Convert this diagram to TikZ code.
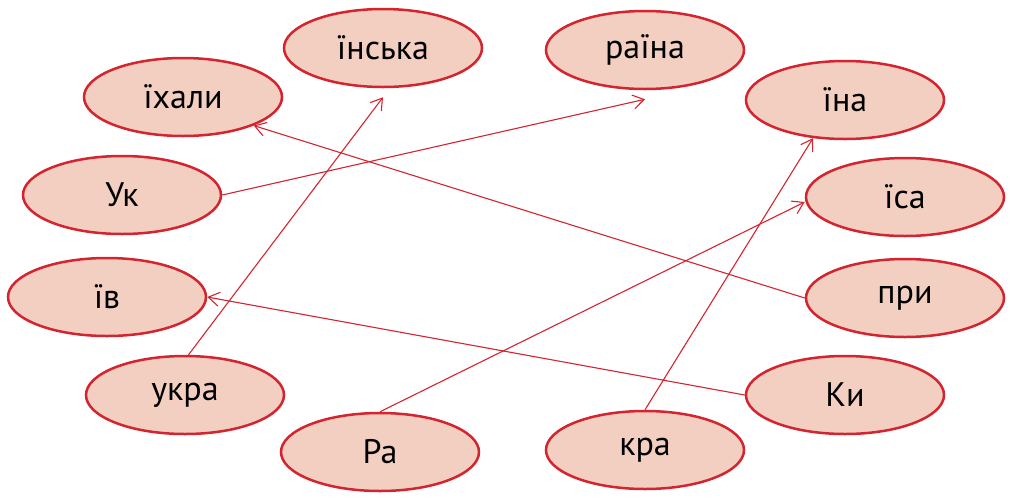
\documentclass[tikz,border=0pt]{standalone}
\usepackage{fontspec}
\setmainfont{PT Sans}
\usetikzlibrary{shapes.geometric,arrows.meta}
\definecolor{wordfill}{HTML}{F2CFC0}
\definecolor{wordline}{HTML}{D42430}

\begin{document}
\begin{tikzpicture}[x=1pt,y=-1pt,
    word/.style={ellipse,draw=wordline,fill=wordfill,line width=2.5pt,
      minimum width=198pt,minimum height=78pt,inner sep=0pt,
      font=\fontsize{34}{40}\selectfont},
    link/.style={draw=wordline,line width=1.1pt,
      -{Straight Barb[length=11pt,width=14pt]}}]
    \useasboundingbox (0,0) rectangle (1012,499);
    % Left column of word parts
    \node[word] (ihaly) at (183,97) {їхали};
    \node[word] (uk)    at (122,195) {Ук};
    \node[word] (iv)    at (107,297) {їв};
    \node[word] (ukra)  at (185,395) {укра};
    % Top and bottom
    \node[word] (insk)  at (383,48) {їнська};
    \node[word] (raina) at (645,50) {раїна};
    \node[word] (ra)    at (380,452) {Ра};
    \node[word] (kra)   at (645,450) {кра};
    % Right column of word parts
    \node[word] (ina)   at (845,100) {їна};
    \node[word] (isa)   at (905,197) {їса};
    \node[word] (pry)   at (905,298) {при};
    \node[word] (ky)    at (845,395) {Ки};
    % Connect the parts
    \draw[link] (pry.west) -- (ihaly.-22);
    \draw[link] (uk.east) -- ([yshift=-9pt]raina.south);
    \draw[link] (ukra.85) -- ([yshift=-9pt]insk.south);
    \draw[link] (ky.west) -- (iv.east);
    \draw[link] (ra.north) -- ([yshift=-5pt]isa.west);
    \draw[link] (kra.north) -- (ina.-130);
\end{tikzpicture}
\end{document}
